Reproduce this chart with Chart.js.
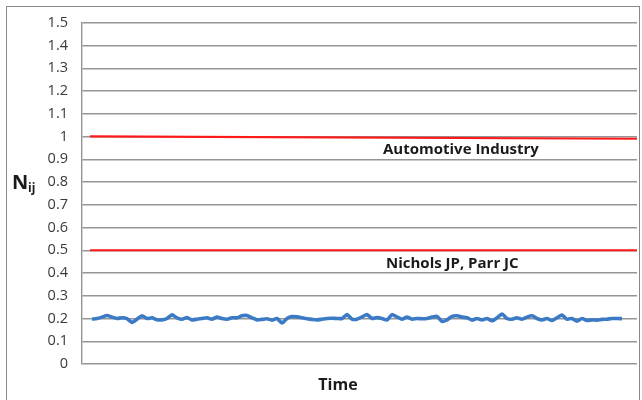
<!DOCTYPE html>
<html>
<head>
<meta charset="utf-8">
<script src="https://cdn.jsdelivr.net/npm/chart.js@4/dist/chart.umd.min.js"></script>
<style>
  html, body { margin: 0; padding: 0; background: #fff; }
  .wrap { position: relative; width: 642px; height: 400px; }
  .frame { position: absolute; left: 6px; top: 6px; width: 634px; height: 400px; border: 1px solid #8a8a8a; box-sizing: border-box; }
  canvas { position: absolute; left: 0; top: 0; }
</style>
</head>
<body>
<div class="wrap">
  <div class="frame"></div>
  <canvas id="chart" width="642" height="400"></canvas>
</div>
<script>
// y axis tick labels, as printed
const yTickLabels = ['0', '0.1', '0.2', '0.3', '0.4', '0.5', '0.6', '0.7', '0.8', '0.9', '1', '1.1', '1.2', '1.3', '1.4', '1.5'];

// measured N_ij series over time (sample index starts at 2)
const seriesStart = 2;
const nijValues = [
  0.197, 0.200, 0.206, 0.213, 0.206, 0.200, 0.203, 0.199, 0.183, 0.197, 0.212, 0.200,
  0.203, 0.194, 0.194, 0.200, 0.216, 0.203, 0.197, 0.204, 0.194, 0.197,
  0.200, 0.203, 0.197, 0.206, 0.200, 0.197, 0.203, 0.203, 0.212, 0.213, 0.203, 0.194,
  0.196, 0.199, 0.193, 0.200, 0.180, 0.200, 0.209, 0.207, 0.203,
  0.199, 0.196, 0.194, 0.197, 0.200, 0.201, 0.200, 0.200, 0.217, 0.197, 0.197, 0.207,
  0.217, 0.200, 0.204, 0.200, 0.194, 0.217, 0.207, 0.197, 0.206, 0.197,
  0.200, 0.199, 0.200, 0.206, 0.209, 0.187, 0.194, 0.209, 0.212, 0.206, 0.203, 0.193,
  0.200, 0.194, 0.200, 0.190, 0.203, 0.220, 0.200, 0.197, 0.203,
  0.197, 0.206, 0.212, 0.200, 0.194, 0.200, 0.191, 0.203, 0.215, 0.197, 0.200, 0.188,
  0.200, 0.191, 0.194, 0.193, 0.196, 0.197, 0.200, 0.200, 0.199
];

// reference lines (start / end)
const refLineX = [1.6, 111];
const automotiveIndustry = [1.0, 0.99];
const nicholsParr = [0.5, 0.5];

const annotations = [
  { text: 'Automotive Industry', x: 60.2, y: 0.94 },
  { text: 'Nichols JP, Parr JC', x: 60.8, y: 0.44 }
];

const textPlugin = {
  id: 'textPlugin',
  afterDraw(chart) {
    const ctx = chart.ctx;
    const xs = chart.scales.x, ys = chart.scales.y;
    ctx.save();
    ctx.fillStyle = '#1a1a1a';
    ctx.textBaseline = 'middle';
    ctx.textAlign = 'left';
    ctx.font = "bold 15px 'Open Sans', sans-serif";
    annotations.forEach(a => {
      ctx.fillText(a.text, xs.getPixelForValue(a.x), ys.getPixelForValue(a.y));
    });
    // axis titles
    ctx.font = "bold 20px 'Open Sans', sans-serif";
    ctx.fillText('N', 12, 183);
    ctx.font = "bold 12px 'Open Sans', sans-serif";
    ctx.fillText('ij', 28, 189);
    ctx.textAlign = 'center';
    ctx.font = "bold 16px 'Open Sans', sans-serif";
    ctx.fillText('Time', 338, 385);
    ctx.restore();
  }
};

new Chart(document.getElementById('chart').getContext('2d'), {
  type: 'line',
  data: {
    datasets: [
      {
        label: 'Automotive Industry',
        data: refLineX.map((x, i) => ({ x: x, y: automotiveIndustry[i] })),
        borderColor: '#ff1a1a',
        borderWidth: 2.2,
        pointRadius: 0
      },
      {
        label: 'Nichols JP, Parr JC',
        data: refLineX.map((x, i) => ({ x: x, y: nicholsParr[i] })),
        borderColor: '#ff1a1a',
        borderWidth: 2.2,
        pointRadius: 0
      },
      {
        label: 'Nij',
        data: nijValues.map((v, i) => ({ x: seriesStart + i, y: v })),
        borderColor: '#3b7bc6',
        borderWidth: 3.6,
        pointRadius: 0,
        tension: 0.2
      }
    ]
  },
  options: {
    responsive: false,
    animation: false,
    layout: { padding: { left: 0, top: 20, right: 5, bottom: 36 } },
    plugins: {
      legend: { display: false },
      tooltip: { enabled: false }
    },
    scales: {
      x: {
        type: 'linear',
        min: 0,
        max: 111,
        display: false
      },
      y: {
        min: 0,
        max: 1.5,
        afterFit: (scale) => { scale.width = 82; },
        ticks: {
          stepSize: 0.1,
          padding: 14,
          color: '#3a3a3a',
          font: { family: "'Open Sans', sans-serif", size: 14.5 },
          callback: (v, i) => yTickLabels[i]
        },
        grid: { color: '#959595', lineWidth: 1.4, drawTicks: false },
        border: { color: '#959595', width: 1.4 }
      }
    }
  },
  plugins: [textPlugin]
});
</script>
</body>
</html>
